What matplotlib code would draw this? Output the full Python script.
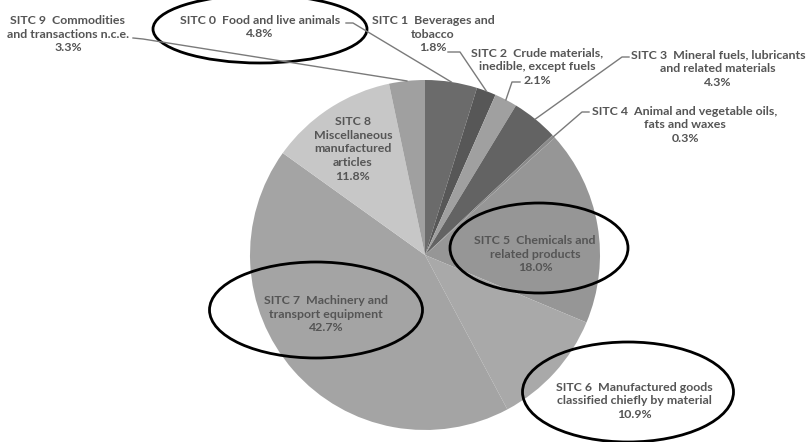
import matplotlib
matplotlib.use("Agg")
import matplotlib.pyplot as plt
from matplotlib.patches import Ellipse
import numpy as np

# data
codes = ["SITC 0", "SITC 1", "SITC 2", "SITC 3", "SITC 4",
         "SITC 5", "SITC 6", "SITC 7", "SITC 8", "SITC 9"]
names = ["Food and live animals",
         "Beverages and\ntobacco",
         "Crude materials,\ninedible, except fuels",
         "Mineral fuels, lubricants\nand related materials",
         "Animal and vegetable oils,\nfats and waxes",
         "Chemicals and\nrelated products",
         "Manufactured goods\nclassified chiefly by material",
         "Machinery and\ntransport equipment",
         "Miscellaneous\nmanufactured\narticles",
         "Commodities\nand transactions n.c.e."]
shares = [4.8, 1.8, 2.1, 4.3, 0.3, 18.0, 10.9, 42.7, 11.8, 3.3]

slice_colors = ["#6b6b6b", "#575757", "#a0a0a0", "#636363", "#8a8a8a",
                "#969696", "#a9a9a9", "#a4a4a4", "#c7c7c7", "#a0a0a0"]

W, H = 807, 442
CX, CY, R = 425, 255, 175

# label block centres in pixel coords (y down)
label_pos = {0: (260, 27), 1: (433, 34), 2: (537, 67), 3: (718, 69),
             4: (685, 125), 5: (535, 254), 6: (634, 401), 7: (326, 314),
             8: (353, 149), 9: (68, 34)}
# leader start (text end) and elbow, pixel coords
leaders = {9: [(133, 38), (143, 39)], 0: [(346, 23), (353, 23)],
           1: [(448, 52), (460, 52)], 2: [(520, 82), (512, 82)],
           3: [(629, 57), (622, 57)], 4: [(589, 112), (582, 112)]}
# ellipses around labels: centre, width, height (pixels)
rings = [((260, 29), 214, 68), ((539, 248), 178, 90),
         ((628, 392), 211, 100), ((316, 310), 213, 96)]

def fy(y):
    return H - y

fig = plt.figure(figsize=(W / 100, H / 100), dpi=100)
ax = fig.add_axes([0, 0, 1, 1])

wedges, _ = ax.pie(shares, colors=slice_colors, startangle=90, counterclock=False,
                   center=(CX, fy(CY)), radius=R, frame=True,
                   wedgeprops=dict(linewidth=0))
ax.set_xlim(0, W)
ax.set_ylim(0, H)
ax.set_aspect("equal")
ax.axis("off")

txt_color = "#555555"
for i, w in enumerate(wedges):
    x, y = label_pos[i]
    sep = "\n" if i == 8 else "  "
    label = f"{codes[i]}{sep}{names[i]}\n{shares[i]:.1f}%"
    ax.text(x, fy(y), label, ha="center", va="center", fontsize=8.9,
            fontweight="bold", family=["Lato", "DejaVu Sans"], color=txt_color,
            linespacing=1.33)
    if i in leaders:
        mid = np.deg2rad((w.theta1 + w.theta2) / 2)
        ex = w.center[0] + w.r * np.cos(mid)
        ey = w.center[1] + w.r * np.sin(mid)
        pts = leaders[i]
        xs = [p[0] for p in pts] + [ex]
        ys = [fy(p[1]) for p in pts] + [ey]
        ax.plot(xs, ys, color="#7a7a7a", lw=1.0)

for (cx, cy), ew, eh in rings:
    ax.add_patch(Ellipse((cx, fy(cy)), ew, eh, fill=False, edgecolor="black",
                         lw=2.0, clip_on=False))

fig.savefig("out.png", dpi=100)
